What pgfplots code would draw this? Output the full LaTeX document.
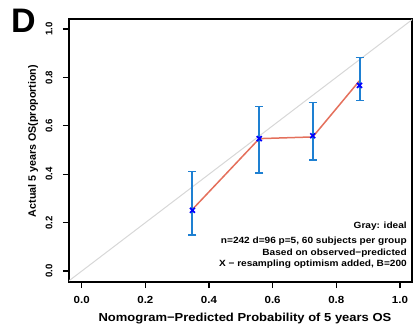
\documentclass[border=0pt]{standalone}
\usepackage{pgfplots}
\pgfplotsset{compat=1.18}
\usepackage{fontspec}
\setmainfont{Liberation Sans}
\newfontfamily\wf[FakeStretch=1.12]{Liberation Sans}
\definecolor{barblue}{RGB}{30,128,210}
\definecolor{markblue}{RGB}{0,0,255}
\definecolor{redline}{RGB}{228,112,92}
\definecolor{idealgray}{RGB}{215,215,215}
\begin{document}
\begin{tikzpicture}
\path[use as bounding box] (-69bp,-49bp) rectangle (345bp,282bp);
\begin{axis}[
  scale only axis,
  width=343bp, height=263bp,
  xmin=-0.04, xmax=1.038,
  ymin=-0.045, ymax=1.041,
  axis line style={line width=1.3bp, black},
  tick align=outside,
  xtick pos=bottom, ytick pos=left,
  major tick length=6bp,
  every tick/.style={black, line width=1.3bp},
  xtick={0,0.2,0.4,0.6,0.8,1.0},
  ytick={0,0.2,0.4,0.6,0.8,1.0},
  xticklabels={0.0,0.2,0.4,0.6,0.8,1.0},
  yticklabels={0.0,0.2,0.4,0.6,0.8,1.0},
  /pgf/number format/assume math mode=true,
  xticklabel style={font=\wf\fontsize{10.3bp}{12bp}\selectfont\bfseries, yshift=-5bp},
  yticklabel style={font=\fontsize{9.6bp}{11bp}\selectfont\bfseries, rotate=90, anchor=south},
  yticklabel shift=7bp,
  xlabel={Nomogram\textminus Predicted Probability of 5 years OS},
  ylabel={Actual 5 years OS(proportion)},
  every axis x label/.style={at={(axis description cs:0.513,-0.1388)}, anchor=center, font=\wf\fontsize{11.6bp}{13bp}\selectfont\bfseries},
  every axis y label/.style={at={(axis description cs:-0.105,0.536)}, anchor=center, rotate=90, font=\fontsize{10.7bp}{12bp}\selectfont\bfseries},
  clip=true,
]
\addplot[idealgray, line width=1bp] coordinates {(-0.1,-0.1) (1.1,1.1)};
\addplot[redline, line width=1.5bp] coordinates {(0.348,0.255) (0.558,0.547) (0.726,0.554) (0.873,0.786)};
\addplot[draw=none, mark=none, forget plot,
  error bars/.cd, y dir=both, y explicit,
  error bar style={barblue, line width=2bp},
  error mark options={barblue, rotate=90, mark size=4bp, line width=1.5bp}]
  table[x=x, y=y, y error plus=ep, y error minus=em] {
  x y ep em
  0.348 0.251 0.161 0.102
  0.558 0.547 0.132 0.142
  0.726 0.559 0.138 0.100
  0.873 0.767 0.116 0.062
};
\addplot[only marks, mark=x, mark size=3.5bp, markblue, line width=1.7bp] coordinates {
  (0.348,0.251) (0.558,0.547) (0.726,0.559) (0.873,0.767)};
\node[anchor=east, font=\wf\fontsize{9bp}{10bp}\selectfont\bfseries, inner sep=0pt] at (axis cs:1.022,0.184) {Gray: ideal};
\node[anchor=east, font=\wf\fontsize{9bp}{10bp}\selectfont\bfseries, inner sep=0pt] at (axis cs:1.022,0.124) {n=242 d=96 p=5, 60 subjects per group};
\node[anchor=east, font=\wf\fontsize{9bp}{10bp}\selectfont\bfseries, inner sep=0pt] at (axis cs:1.022,0.076) {Based on observed\textminus predicted};
\node[anchor=east, font=\wf\fontsize{9bp}{10bp}\selectfont\bfseries, inner sep=0pt] at (axis cs:1.022,0.027) {X \textminus\ resampling optimism added, B=200};
\end{axis}
\node[font=\fontsize{34bp}{36bp}\selectfont\bfseries, inner sep=0pt] at (-45.5bp,261.5bp) {D};
\end{tikzpicture}
\end{document}
